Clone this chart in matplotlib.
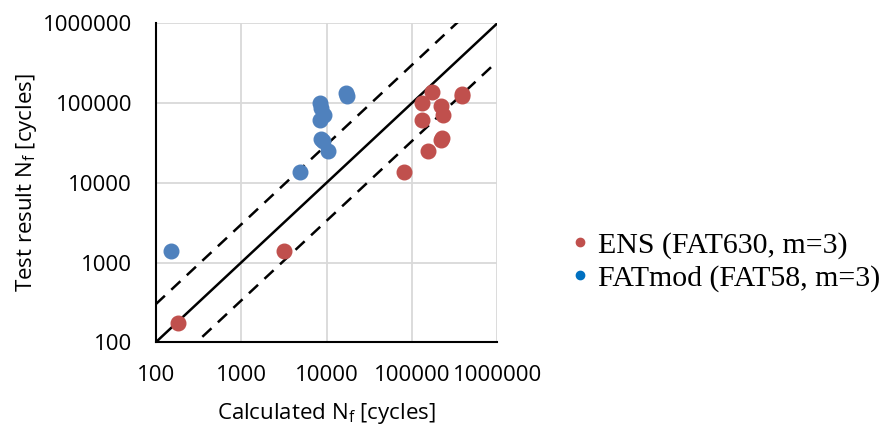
import matplotlib.pyplot as plt
from matplotlib.lines import Line2D

# FATmod (FAT58, m=3)
mod_calc = [150, 4900, 10300, 8600, 9000, 8400, 9300, 8500, 8600, 16700, 17200]
mod_test = [1380, 13500, 25000, 35000, 33000, 62000, 70000, 100000, 87000, 135000, 123000]

# ENS (FAT630, m=3)
ens_calc = [180, 3150, 81000, 155000, 220000, 225000, 130000, 230000, 220000, 133000, 170000, 385000, 390000]
ens_test = [175, 1380, 13500, 25000, 34000, 36500, 62000, 70000, 92000, 100000, 138000, 122000, 128000]

ticks = [100, 1000, 10000, 100000, 1000000]
line_x = [100, 1000000]
scatter_factor = 3

red = "#C0504D"
blue = "#4F81BD"

fig = plt.figure(figsize=(8.93, 4.25), dpi=100)
ax = fig.add_axes([0.1744, 0.1946, 0.3825, 0.7506])

ax.set_xscale("log")
ax.set_yscale("log")
ax.set(xlim=(100, 1e6), ylim=(100, 1e6))

ax.plot(line_x, line_x, color="black", lw=1.8, zorder=2)
ax.plot(line_x, [v * scatter_factor for v in line_x], color="black", lw=1.8,
        dashes=(5, 3.5), zorder=2)
ax.plot(line_x, [v / scatter_factor for v in line_x], color="black", lw=1.8,
        dashes=(5, 3.5), zorder=2)

ax.plot(mod_calc, mod_test, "o", color=blue, ms=10.5, zorder=3)
ax.plot(ens_calc, ens_test, "o", color=red, ms=10.5, zorder=3)

ax.set_xticks(ticks)
ax.set_yticks(ticks)
ax.set_xticklabels([str(t) for t in ticks])
ax.set_yticklabels([str(t) for t in ticks])
ax.minorticks_off()
ax.tick_params(length=0, labelsize=16)
ax.tick_params(axis="y", pad=17)
ax.tick_params(axis="x", pad=16)
for lab in ax.get_xticklabels() + ax.get_yticklabels():
    lab.set_family("Open Sans")

ax.grid(True, color="#D9D9D9", lw=1.3, zorder=0)
ax.set_axisbelow(True)
for s in ["top", "right"]:
    ax.spines[s].set_visible(False)
for s in ["left", "bottom"]:
    ax.spines[s].set_color("black")
    ax.spines[s].set_linewidth(1.5)

ax.set_xlabel(r"Calculated N$_\mathregular{f}$ [cycles]", family="Open Sans",
              fontsize=16, labelpad=11)
ax.set_ylabel(r"Test result N$_\mathregular{f}$ [cycles]", family="Open Sans",
              fontsize=16, labelpad=3)

handles = [
    Line2D([], [], ls="none", marker="o", color=red, ms=6, label="ENS (FAT630, m=3)"),
    Line2D([], [], ls="none", marker="o", color="#0070C0", ms=6, label="FATmod (FAT58, m=3)"),
]
fig.legend(handles=handles, loc="center left", bbox_to_anchor=(0.603, 0.384),
           frameon=False, prop={"family": "Liberation Serif", "size": 21.5},
           handletextpad=0.1, handlelength=1.0, labelspacing=0.2)

fig.savefig("out.png", dpi=100)
